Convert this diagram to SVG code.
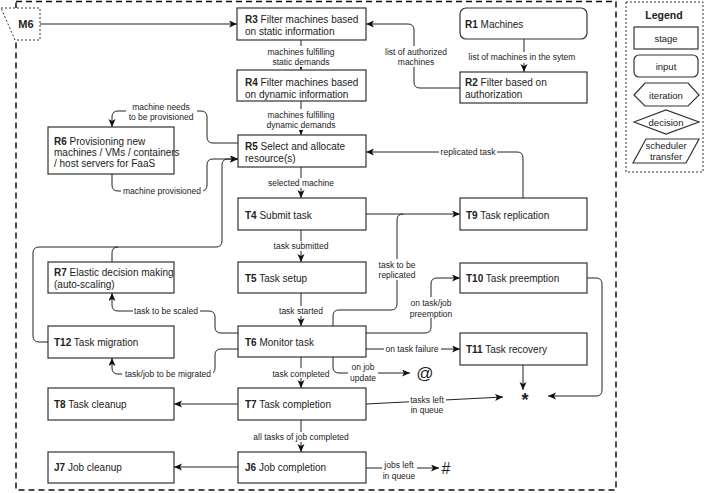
<svg xmlns="http://www.w3.org/2000/svg" width="706" height="493" viewBox="0 0 706 493">
<style>
.box{fill:#fff;stroke:#333;stroke-width:1.2}
.e{fill:none;stroke:#222;stroke-width:1}
.t{font-family:"Liberation Sans",Arial,Helvetica,sans-serif;font-size:10px;fill:#222}
.b{font-weight:bold}
.l{font-family:"Liberation Sans",Arial,Helvetica,sans-serif;font-size:8.5px;fill:#222;text-anchor:middle}
.bg{fill:#fff}
.c{text-anchor:middle}
</style>
<defs>
<marker id="a" markerUnits="userSpaceOnUse" markerWidth="10" markerHeight="8" refX="8" refY="3.5" orient="auto">
<path d="M0,0 L8,3.5 L0,7 L2,3.5 z" fill="#111"/>
</marker>
</defs>
<rect width="706" height="493" fill="#fff"/>
<!-- outer boundary -->
<rect x="16" y="1.5" width="600" height="488.5" fill="none" stroke="#111" stroke-width="1.5" stroke-dasharray="6 4"/>
<g id="connectors">
<path class="e" d="M40,24 L237,24" marker-end="url(#a)"/>
<path class="e" d="M301,40 L301,70" marker-end="url(#a)"/>
<path class="e" d="M524,39 L524,72" marker-end="url(#a)"/>
<path class="e" d="M460,88 L420,88 Q414,88 414,82 L414,30 Q414,24 408,24 L366,24" marker-end="url(#a)"/>
<path class="e" d="M301,101 L301,135" marker-end="url(#a)"/>
<path class="e" d="M238,143 L213,143 Q207,143 207,137 L207,117 Q207,111 201,111 L118,111 Q112,111 112,117 L112,127" marker-end="url(#a)"/>
<path class="e" d="M112,174 L112,185 Q112,191 118,191 L201,191 Q207,191 207,185 L207,165 Q207,159 213,159 L238,159" marker-end="url(#a)"/>
<path class="e" d="M48,342 L39,342 Q33,342 33,336 L33,253 Q33,247 39,247 L216,247 Q222,247 222,241 L222,165 Q222,159 228,159 L238,159" marker-end="url(#a)"/>
<path class="e" d="M112,262 L112,253 Q112,247 118,247"/>
<path class="e" d="M301,167 L301,198" marker-end="url(#a)"/>
<path class="e" d="M366,214 L460,214" marker-end="url(#a)"/>
<path class="e" d="M523,198 L523,158 Q523,152 517,152 L366,152" marker-end="url(#a)"/>
<path class="e" d="M301,230 L301,262" marker-end="url(#a)"/>
<path class="e" d="M333,326 L333,316 Q333,310 339,310 L391,310 Q397,310 397,304 L397,220 Q397,214 403,214"/>
<path class="e" d="M301,293 L301,326" marker-end="url(#a)"/>
<path class="e" d="M366,333 L425,333 Q431,333 431,327 L431,284 Q431,278 437,278 L460,278" marker-end="url(#a)"/>
<path class="e" d="M366,349 L460,349" marker-end="url(#a)"/>
<path class="e" d="M523,365 L523,390" marker-end="url(#a)"/>
<path class="e" d="M587,278 L596,278 Q602,278 602,284 L602,390 Q602,396 596,396 L548,396" marker-end="url(#a)"/>
<path class="e" d="M238,333 L221,333 Q215,333 215,327 L215,317 Q215,311 209,311 L118,311 Q112,311 112,305 L112,293" marker-end="url(#a)"/>
<path class="e" d="M238,349 L221,349 Q215,349 215,355 L215,368 Q215,374 209,374 L118,374 Q112,374 112,368 L112,358" marker-end="url(#a)"/>
<path class="e" d="M333,357 L333,367 Q333,373 339,373 L410,373" marker-end="url(#a)"/>
<path class="e" d="M301,357 L301,388" marker-end="url(#a)"/>
<path class="e" d="M366,404 L503,397" marker-end="url(#a)"/>
<path class="e" d="M238,404 L174,404" marker-end="url(#a)"/>
<path class="e" d="M301,420 L301,452" marker-end="url(#a)"/>
<path class="e" d="M238,467 L174,467" marker-end="url(#a)"/>
<path class="e" d="M366,468 L439,468" marker-end="url(#a)"/>
<!-- labels -->
<rect class="bg" x="265" y="46" width="72" height="21"/>
<text class="l" x="301" y="55">machines fulfilling</text>
<text class="l" x="301" y="65">static demands</text>
<rect class="bg" x="466" y="52" width="112" height="11"/>
<text class="l" x="522" y="60">list of machines in the sytem</text>
<rect class="bg" x="379" y="46" width="76" height="21"/>
<text class="l" x="416" y="55">list of authorized</text>
<text class="l" x="416" y="65">machines</text>
<rect class="bg" x="265" y="109" width="72" height="21"/>
<text class="l" x="301" y="118">machines fulfilling</text>
<text class="l" x="301" y="128">dynamic demands</text>
<rect class="bg" x="126" y="101" width="71" height="21"/>
<text class="l" x="161" y="110">machine needs</text>
<text class="l" x="161" y="120">to be provisioned</text>
<rect class="bg" x="121" y="186" width="82" height="10"/>
<text class="l" x="162" y="194">machine provisioned</text>
<rect class="bg" x="439" y="147" width="58" height="10"/>
<text class="l" x="468" y="155">replicated task</text>
<rect class="bg" x="267" y="178" width="68" height="10"/>
<text class="l" x="301" y="186">selected machine</text>
<rect class="bg" x="273" y="241" width="56" height="10"/>
<text class="l" x="301" y="249">task submitted</text>
<rect class="bg" x="377" y="259" width="40" height="21"/>
<text class="l" x="397" y="268">task to be</text>
<text class="l" x="397" y="278">replicated</text>
<rect class="bg" x="277" y="306" width="48" height="10"/>
<text class="l" x="301" y="314">task started</text>
<rect class="bg" x="408" y="297" width="46" height="21"/>
<text class="l" x="431" y="306">on task/job</text>
<text class="l" x="431" y="317">preemption</text>
<rect class="bg" x="133" y="306" width="67" height="10"/>
<text class="l" x="166" y="314">task to be scaled</text>
<rect class="bg" x="384" y="344" width="57" height="10"/>
<text class="l" x="412" y="352">on task failure</text>
<rect class="bg" x="122" y="369" width="91" height="10"/>
<text class="l" x="168" y="377">task/job to be migrated</text>
<rect class="bg" x="271" y="368" width="60" height="10"/>
<text class="l" x="301" y="377">task completed</text>
<rect class="bg" x="348" y="361" width="30" height="21"/>
<text class="l" x="363" y="370">on job</text>
<text class="l" x="363" y="381">update</text>
<rect class="bg" x="409" y="393" width="37" height="21"/>
<text class="l" x="427" y="403">tasks left</text>
<text class="l" x="427" y="413">in queue</text>
<rect class="bg" x="252" y="432" width="98" height="10"/>
<text class="l" x="301" y="440">all tasks of job completed</text>
<rect class="bg" x="382" y="459" width="35" height="21"/>
<text class="l" x="399" y="468">jobs left</text>
<text class="l" x="399" y="479">in queue</text>
<text x="425" y="379" class="t c" style="font-size:17px">@</text>
<text x="525" y="406" class="t c b" style="font-size:18px">*</text>
<text x="446" y="474" class="t c" style="font-size:16px">#</text>
</g>
<g id="M6">
<polygon points="1,8 40,8 40,40 15,40" fill="#fff" stroke="#333" stroke-width="1" stroke-dasharray="2 2"/>
<text x="26" y="28" class="t c b" style="font-size:11px">M6</text>
</g>
<g id="R3"><rect class="box" x="237" y="8" width="129" height="32"/>
<text class="t" x="245" y="23"><tspan class="b">R3</tspan> Filter machines based</text>
<text class="t" x="245" y="35">on static information</text></g>
<g id="R4"><rect class="box" x="237" y="70" width="129" height="31"/>
<text class="t" x="245" y="86"><tspan class="b">R4</tspan> Filter machines based</text>
<text class="t" x="245" y="98">on dynamic information</text></g>
<g id="R1"><rect class="box" x="460" y="8" width="127" height="31" rx="6"/>
<text class="t" x="465" y="28"><tspan class="b">R1</tspan> Machines</text></g>
<g id="R2"><rect class="box" x="460" y="72" width="127" height="31"/>
<text class="t" x="465" y="86"><tspan class="b">R2</tspan> Filter based on</text>
<text class="t" x="465" y="98">authorization</text></g>
<g id="R5"><rect class="box" x="238" y="135" width="128" height="32"/>
<text class="t" x="245" y="150"><tspan class="b">R5</tspan> Select and allocate</text>
<text class="t" x="245" y="162">resource(s)</text></g>
<g id="R6"><rect class="box" x="48" y="127" width="126" height="47"/>
<text class="t" x="54" y="145"><tspan class="b">R6</tspan> Provisioning new</text>
<text class="t" x="54" y="156">machines / VMs / containers</text>
<text class="t" x="54" y="167">/ host servers for FaaS</text></g>
<g id="T4"><rect class="box" x="238" y="198" width="128" height="32"/>
<text class="t" x="245" y="219"><tspan class="b">T4</tspan> Submit task</text></g>
<g id="T9"><rect class="box" x="460" y="198" width="127" height="32"/>
<text class="t" x="466" y="219"><tspan class="b">T9</tspan> Task replication</text></g>
<g id="R7"><rect class="box" x="48" y="262" width="126" height="31"/>
<text class="t" x="54" y="276"><tspan class="b">R7</tspan> Elastic decision making</text>
<text class="t" x="54" y="288">(auto-scaling)</text></g>
<g id="T5"><rect class="box" x="238" y="262" width="128" height="31"/>
<text class="t" x="245" y="282"><tspan class="b">T5</tspan> Task setup</text></g>
<g id="T10"><rect class="box" x="460" y="263" width="127" height="30"/>
<text class="t" x="466" y="282"><tspan class="b">T10</tspan> Task preemption</text></g>
<g id="T12"><rect class="box" x="48" y="326" width="126" height="32"/>
<text class="t" x="54" y="346"><tspan class="b">T12</tspan> Task migration</text></g>
<g id="T6"><rect class="box" x="238" y="326" width="128" height="31"/>
<text class="t" x="245" y="346"><tspan class="b">T6</tspan> Monitor task</text></g>
<g id="T11"><rect class="box" x="460" y="333" width="127" height="32"/>
<text class="t" x="466" y="353"><tspan class="b">T11</tspan> Task recovery</text></g>
<g id="T8"><rect class="box" x="48" y="388" width="126" height="32"/>
<text class="t" x="54" y="408"><tspan class="b">T8</tspan> Task cleanup</text></g>
<g id="T7"><rect class="box" x="238" y="388" width="128" height="32"/>
<text class="t" x="245" y="408"><tspan class="b">T7</tspan> Task completion</text></g>
<g id="J7"><rect class="box" x="48" y="452" width="126" height="31"/>
<text class="t" x="54" y="471"><tspan class="b">J7</tspan> Job cleanup</text></g>
<g id="J6"><rect class="box" x="238" y="452" width="128" height="31"/>
<text class="t" x="245" y="471"><tspan class="b">J6</tspan> Job completion</text></g>
<g id="legend">
<rect x="626" y="2" width="77" height="170" fill="#fff" stroke="#333" stroke-width="1" stroke-dasharray="2 2"/>
<text class="t c b" x="664" y="19" style="font-size:10.5px">Legend</text>
<rect class="box" x="634" y="27" width="64" height="22"/>
<text class="t c" x="666" y="41.5" style="font-size:9.5px">stage</text>
<rect class="box" x="634" y="55" width="64" height="22" rx="5"/>
<text class="t c" x="666" y="69.5" style="font-size:9.5px">input</text>
<polygon class="box" points="634,95 645,83 688,83 699,95 688,106 645,106"/>
<text class="t c" x="666" y="98.5" style="font-size:9.5px">iteration</text>
<polygon class="box" points="634,122 666,110 699,122 666,134"/>
<text class="t c" x="666" y="125.5" style="font-size:9.5px">decision</text>
<polygon class="box" points="646,139 699,139 686,163 633,163"/>
<text class="t c" x="666" y="149" style="font-size:9.5px">scheduler</text>
<text class="t c" x="666" y="160" style="font-size:9.5px">transfer</text>
</g>
</svg>
